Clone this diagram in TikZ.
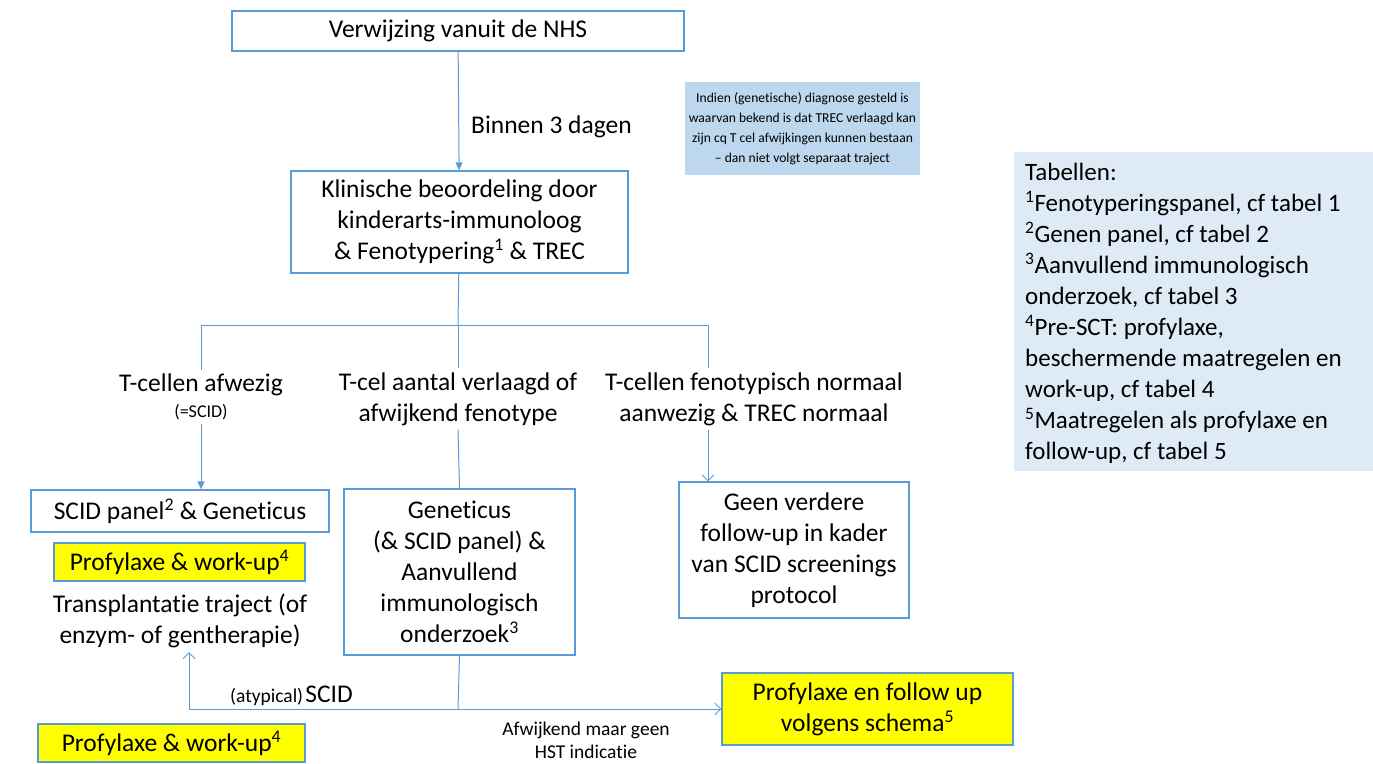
\documentclass[tikz,border=0pt]{standalone}
\usepackage{fontspec}
\setmainfont{Carlito}[Ligatures=NoCommon]
\usetikzlibrary{arrows.meta}
\definecolor{lblue}{HTML}{5B9BD5}
\definecolor{notefill}{HTML}{BDD7EE}
\definecolor{tabfill}{HTML}{DEEBF7}
\definecolor{yel}{HTML}{FFFF00}
\newcommand\myfs[2]{\fontsize{#1}{#2}\selectfont}
\tikzset{
  box/.style={draw=lblue, line width=1.3pt, fill=white, align=center, inner sep=0pt, font=\myfs{25.5}{31}},
  ybox/.style={box, fill=yel},
  txt/.style={align=center, inner sep=4pt, font=\myfs{25.5}{31}},
  conn/.style={draw=lblue, line width=1pt},
  farrow/.style={conn, -{Triangle[length=8pt,width=7pt]}},
  oarrow/.style={conn, -{Straight Barb[length=6pt,width=12pt,line width=0.8pt]}},
}
\begin{document}
\begin{tikzpicture}[x=1pt,y=-1pt]
\useasboundingbox (0,0) rectangle (1373,763);
% main boxes
\node[box, minimum width=452pt, minimum height=40pt] (nhs) at (458,31) {Verwijzing vanuit de NHS};
\node[box, minimum width=337pt, minimum height=102pt] (klin) at (459.5,222) {Klinische beoordeling door\\kinderarts-immunoloog\\\& Fenotypering\textsuperscript{1} \& TREC};
\node[txt, anchor=west, inner sep=0pt] (binnen) at (471,127) {Binnen 3 dagen};
% note
\node[fill=notefill, minimum width=235pt, minimum height=93pt, align=center, inner sep=0pt, font=\myfs{13.6}{20}] (note) at (802.5,128.5) {Indien (genetische) diagnose gesteld is\\waarvan bekend is dat TREC verlaagd kan\\zijn cq T cel afwijkingen kunnen bestaan\\-- dan niet volgt separaat traject};
% tabellen
\node[fill=tabfill, minimum width=359pt, minimum height=319pt, inner sep=0pt] (tab) at (1193.5,311.5) {};
\node[anchor=north west, align=left, inner sep=0pt, font=\myfs{25}{31}] (tabtxt) at (1025,163) {Tabellen:\\
\textsuperscript{1}Fenotyperingspanel, cf tabel 1\\
\textsuperscript{2}Genen panel, cf tabel 2\\
\textsuperscript{3}Aanvullend immunologisch\\
onderzoek, cf tabel 3\\
\textsuperscript{4}Pre-SCT: profylaxe,\\
beschermende maatregelen en\\
work-up, cf tabel 4\\
\textsuperscript{5}Maatregelen als profylaxe en\\
follow-up, cf tabel 5};
% branch texts
\node[txt] (tleft) at (201,397) {T-cellen afwezig\\[-5pt]{\myfs{18}{20}(=SCID)}};
\node[txt] (tmid) at (458,399) {T-cel aantal verlaagd of\\afwijkend fenotype};
\node[txt] (tright) at (754,399) {T-cellen fenotypisch normaal\\aanwezig \& TREC normaal};
% level boxes
\node[box, minimum width=298pt, minimum height=42pt] (scid) at (180,511) {SCID panel\textsuperscript{2} \& Geneticus};
\node[ybox, minimum width=251pt, minimum height=38pt] (yel1) at (179.5,562) {Profylaxe \& work-up\textsuperscript{4}};
\node[txt] (transp) at (180,621) {Transplantatie traject (of\\enzym- of gentherapie)};
\node[box, minimum width=231pt, minimum height=166pt] (gen) at (459.5,572) {Geneticus\\(\& SCID panel) \&\\Aanvullend\\immunologisch\\onderzoek\textsuperscript{3}};
\node[box, minimum width=230pt, minimum height=136pt] (geen) at (794,550) {Geen verdere\\follow-up in kader\\van SCID screenings\\protocol};
\node[ybox, minimum width=291pt, minimum height=72pt] (yel5) at (867.5,709) {Profylaxe en follow up\\volgens schema\textsuperscript{5}};
\node[ybox, minimum width=267pt, minimum height=38pt] (yel2) at (171.5,743) {Profylaxe \& work-up\textsuperscript{4}};
% labels
\node[inner sep=0pt, anchor=west] (atyp) at (230,696) {{\myfs{19.5}{22}(atypical)}\ {\myfs{25.5}{28}SCID}};
\node[align=center, inner sep=0pt, font=\myfs{19.5}{23}] (afw) at (586,740) {Afwijkend maar geen\\HST indicatie};
% coordinates
\coordinate (br) at (458,325);
\coordinate (brL) at (201,325);
\coordinate (brR) at (708,325);
\coordinate (bj) at (458,709);
\coordinate (bl) at (189,709);
% connectors
\draw[farrow] (nhs) -- (klin);
\draw[conn] (klin) -- (br);
\draw[conn] (brL) -- (brR);
\draw[conn] (br) -- (tmid.north);
\draw[conn] (brL) -- (brL |- tleft.north);
\draw[conn] (brR) -- (brR |- tright.north);
\draw[farrow] (tleft.south) -- (tleft.south |- scid.north);
\draw[conn] (tmid.south) -- (gen.north);
\draw[oarrow] (brR |- tright.south) -- (brR |- geen.north);
\draw[conn] (gen.south) -- (bj);
\draw[oarrow] (bl) -- (yel5.west);
\draw[oarrow] (bl) -- (bl |- transp.south);
\end{tikzpicture}
\end{document}
